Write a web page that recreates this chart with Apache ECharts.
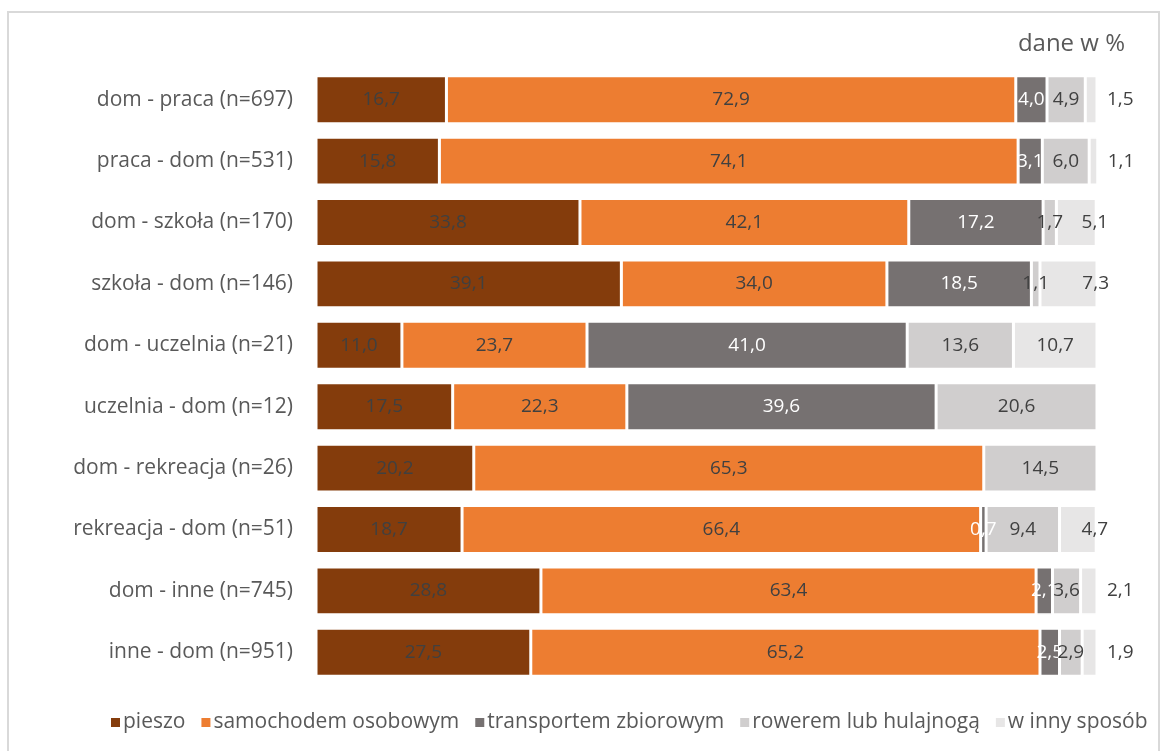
<!DOCTYPE html>
<html><head><meta charset="utf-8">
<script src="https://cdn.jsdelivr.net/npm/echarts@6/dist/echarts.min.js"></script>
<style>html,body{margin:0;padding:0;background:#fff}#c{width:1163px;height:751px}</style>
</head><body><div id="c"></div>
<script>
const categories = ["dom - praca (n=697)","praca - dom (n=531)","dom - szkoła (n=170)","szkoła - dom (n=146)","dom - uczelnia (n=21)","uczelnia - dom (n=12)","dom - rekreacja (n=26)","rekreacja - dom (n=51)","dom - inne (n=745)","inne - dom (n=951)"];
const seriesNames = ["pieszo","samochodem osobowym","transportem zbiorowym","rowerem lub hulajnogą","w inny sposób"];
const pieszo = [16.7,15.8,33.8,39.1,11.0,17.5,20.2,18.7,28.8,27.5];
const samochodem = [72.9,74.1,42.1,34.0,23.7,22.3,65.3,66.4,63.4,65.2];
const transportem = [4.0,3.1,17.2,18.5,41.0,39.6,0,0.7,2.1,2.5];
const rowerem = [4.9,6.0,1.7,1.1,13.6,20.6,14.5,9.4,3.6,2.9];
const inny = [1.5,1.1,5.1,7.3,10.7,0,0,4.7,2.1,1.9];

const colors = ["#843C0C","#ED7D31","#767171","#D0CECE","#E7E6E6"];
const labelColors = ["#404040","#404040","#ffffff","#404040","#404040"];
const allData = [pieszo,samochodem,transportem,rowerem,inny];
const FONT = "'Open Sans', 'Noto Sans', sans-serif";
const fmt = v => v.toFixed(1).replace('.', ',');

const series = allData.map((arr, si) => ({
  name: seriesNames[si],
  type: 'bar',
  stack: 'total',
  barCategoryGap: '22%',
  itemStyle: {color: colors[si], borderColor: '#ffffff', borderWidth: 1.5},
  data: arr.map(v => {
    const d = {value: v};
    if (v === 0) { d.label = {show: false}; }
    else if (si === 4) {
      if (v < 3) d.label = {position: 'right', distance: 10};
      else if (v < 8) d.label = {position: 'insideRight', distance: -12};
    }
    return d;
  }),
  label: {
    show: true, position: 'inside', formatter: p => fmt(p.value),
    color: labelColors[si], fontSize: 19, fontFamily: FONT
  },
  emphasis: {disabled: true}
}));

const chart = echarts.init(document.getElementById('c'), null, {renderer: 'canvas'});
chart.setOption({
  animation: false,
  color: colors,
  title: {
    text: 'dane w %', right: 33, top: 27,
    textStyle: {color: '#595959', fontSize: 24, fontWeight: 'normal', fontFamily: FONT}
  },
  graphic: [{
    type: 'rect', shape: {x: 8, y: 12, width: 1151, height: 760},
    style: {fill: 'none', stroke: '#d9d9d9', lineWidth: 2}, silent: true, z: -1
  }],
  legend: {
    bottom: 13, left: 104, itemWidth: 11, itemHeight: 11, itemGap: 14,
    icon: 'rect',
    textStyle: {color: '#595959', fontSize: 21, fontFamily: FONT, padding: [0,0,0,-3]},
    data: seriesNames
  },
  grid: {left: 316, right: 66, top: 69, bottom: 68},
  xAxis: {type: 'value', min: 0, max: 100, show: false},
  yAxis: {
    type: 'category', inverse: true, data: categories,
    axisLine: {show: false}, axisTick: {show: false},
    axisLabel: {color: '#595959', fontSize: 21, fontFamily: FONT, margin: 23}
  },
  series: series
});
</script></body></html>
